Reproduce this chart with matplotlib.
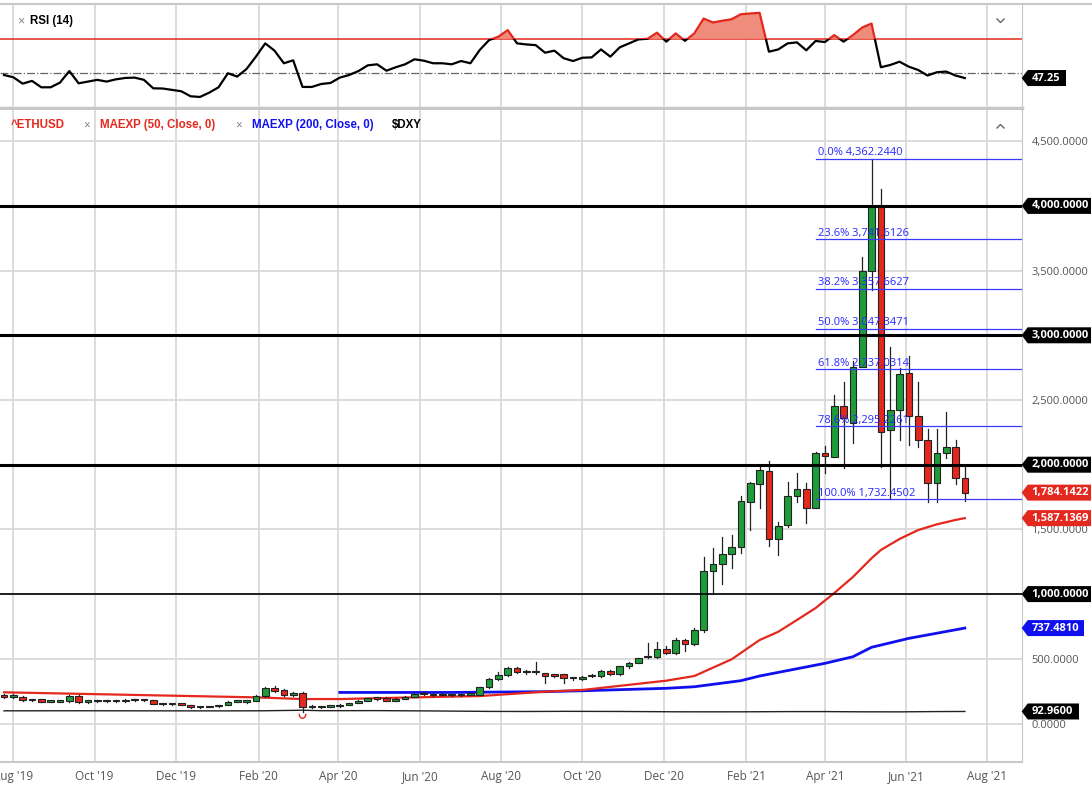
import numpy as np
import pandas as pd
import matplotlib
matplotlib.use("Agg")
from matplotlib import pyplot as plt
import matplotlib.dates as mdates
from matplotlib.patches import Rectangle, Polygon, Arc
from matplotlib.lines import Line2D
from matplotlib.transforms import IdentityTransform

plt.rcParams['font.family'] = ['Open Sans', 'DejaVu Sans']

# weekly ETH candles
dates = pd.date_range("2019-07-25", periods=104, freq="7D")

opens = [210, 207, 202, 182, 189, 168, 168, 176, 212, 168,
         171, 176, 175, 173, 181, 182, 178, 152, 150, 147,
         140, 126, 127, 132, 142, 168, 168, 176, 212, 277,
         259, 220, 238, 125, 128, 130, 133, 146, 159, 177,
         198, 198, 177, 193, 208, 229, 230, 220, 224, 218,
         222, 224, 280, 342, 375, 432, 396, 396, 388, 380,
         380, 349, 344, 367, 367, 406, 383, 444, 470, 512,
         512, 574, 548, 646, 615, 724, 1180, 1230, 1310, 1366,
         1714, 1851, 1954, 1426, 1534, 1758, 1812, 1663, 2088, 2062,
         2454, 2320, 2757, 3497, 3994, 2267, 2423, 2706, 2376, 2191,
         1861, 2088, 2134, 1895]
highs = [225, 228, 212, 186, 192, 172, 178, 222, 218, 178,
         182, 181, 181, 186, 187, 186, 182, 154, 151, 149,
         145, 130, 131, 145, 172, 176, 180, 220, 285, 288,
         265, 240, 240, 140, 133, 142, 149, 162, 180, 200,
         206, 203, 196, 212, 232, 245, 232, 233, 228, 230,
         228, 285, 348, 395, 440, 437, 410, 478, 392, 385,
         385, 355, 368, 385, 410, 410, 448, 478, 510, 620,
         633, 600, 660, 650, 740, 1284, 1354, 1444, 1457, 1758,
         1869, 1990, 2031, 1560, 1869, 1938, 1861, 2101, 2144, 2539,
         2641, 2800, 3603, 4362.244, 4128, 2912, 2750, 2840, 2641, 2274,
         2274, 2410, 2191, 1985]
lows = [200, 198, 175, 176, 165, 163, 166, 170, 160, 162,
        168, 170, 164, 170, 176, 175, 148, 142, 144, 141,
        120, 123, 124, 130, 140, 165, 160, 174, 208, 245,
        215, 210, 89, 118, 123, 125, 130, 142, 155, 172,
        185, 172, 174, 190, 205, 222, 215, 217, 214, 215,
        218, 220, 276, 336, 368, 390, 385, 380, 310, 362,
        315, 340, 340, 362, 362, 378, 376, 428, 465, 505,
        505, 540, 540, 560, 610, 710, 1000, 1080, 1200, 1320,
        1495, 1663, 1374, 1300, 1516, 1714, 1552, 1663, 1934, 2062,
        1972, 2165, 2760, 3350, 1985, 1732, 2191, 2150, 2139, 1714,
        1714, 2049, 1851, 1722]
closes = [207, 210, 182, 180, 168, 169, 175, 212, 168, 171,
          176, 175, 173, 181, 182, 180, 152, 150, 147, 145,
          126, 127, 128, 142, 168, 170, 176, 212, 277, 253,
          220, 236, 125, 128, 128, 133, 146, 159, 177, 198,
          193, 177, 193, 208, 229, 230, 218, 224, 218, 224,
          224, 280, 342, 375, 432, 396, 397, 396, 370, 367,
          349, 350, 362, 368, 406, 383, 444, 470, 504, 512,
          574, 548, 646, 615, 724, 1180, 1230, 1310, 1366, 1720,
          1856, 1959, 1426, 1526, 1758, 1812, 1663, 2088, 2070, 2454,
          2359, 2757, 3497, 3994, 2255, 2423, 2698, 2376, 2191, 1861,
          2088, 2134, 1895, 1784.1422]

rsi = [49.0, 47.7, 44.0, 45.6, 41.9, 41.9, 44.6, 51.3, 44.2, 45.2,
       46.2, 45.2, 46.5, 47.3, 47.5, 46.2, 41.3, 41.2, 40.4, 39.6,
       36.7, 36.3, 38.8, 41.9, 50.0, 48.1, 52.5, 59.6, 67.3, 63.1,
       55.8, 57.5, 42.1, 42.1, 43.8, 44.4, 47.5, 49.0, 51.3, 54.6,
       55.2, 51.5, 53.5, 55.2, 58.1, 57.3, 55.8, 55.8, 55.2, 57.1,
       55.8, 63.5, 69.2, 71.2, 75.0, 67.3, 66.7, 66.3, 61.9, 63.1,
       58.7, 57.1, 59.0, 59.2, 63.8, 59.6, 65.0, 67.3, 69.6, 70.0,
       73.5, 68.3, 73.1, 68.8, 73.1, 81.7, 79.4, 80.4, 81.3, 84.2,
       84.6, 85.0, 62.5, 63.8, 67.3, 67.9, 63.3, 68.7, 68.1, 72.1,
       68.3, 72.1, 76.5, 78.8, 53.5, 54.8, 56.7, 53.8, 51.9, 48.7,
       50.6, 51.0, 48.7, 47.25]

# moving averages (week index, value)
ema50_idx = [0, 27, 32, 36, 44, 51, 58, 62, 71, 74, 78, 81, 83, 85, 87, 89, 91, 93, 94, 96, 98, 100, 102, 103]
ema50_val = [241, 202, 189, 189, 202, 212, 246, 259, 331, 367, 496, 645, 709, 800, 892, 1008, 1132, 1277, 1341, 1426, 1495, 1539, 1573, 1587.1369]
ema200_idx = [36, 48, 58, 62, 71, 74, 79, 81, 88, 91, 93, 97, 103]
ema200_val = [240, 240, 246, 253, 272, 284, 331, 367, 465, 516, 589, 658, 737.481]
dxy_idx = [0, 8, 16, 24, 28, 32, 34, 40, 46, 52, 56, 60, 66, 72, 76, 80, 84, 88, 92, 96, 100, 103]
dxy_val = [98.0, 98.5, 97.8, 97.5, 98.5, 102.5, 99.0, 99.5, 97.0, 93.5, 92.8, 94.0, 93.0, 90.5, 90.2, 90.5, 92.0, 92.0, 90.3, 90.0, 92.2, 92.96]

fib_pct = ['0.0%', '23.6%', '38.2%', '50.0%', '61.8%', '78.6%', '100.0%']
fib_val = [4362.2440, 3741.6126, 3357.6627, 3047.3471, 2737.0314, 2295.2261, 1732.4502]
levels = [1000, 2000, 3000, 4000]

GREEN = '#1f9c3a'
RED = '#e5281d'
BLUE = '#1010ee'
GRID = '#d9d9d9'
W, H = 1092, 801

fig = plt.figure(figsize=(W / 100, H / 100), dpi=100)
ax_r = fig.add_axes([0, 1 - 107.5 / H, 1021.7 / W, (107.5 - 4) / H])
ax = fig.add_axes([0, 1 - 762 / H, 1021.7 / W, (762 - 110) / H])

x = mdates.date2num(dates)
xmin = mdates.date2num(pd.Timestamp("2019-07-22"))
xmax = mdates.date2num(pd.Timestamp("2021-08-26 16:00"))
ticks = mdates.date2num(pd.date_range("2019-08-01", "2021-08-01", freq="2MS"))

for a in (ax, ax_r):
    a.set_xlim(xmin, xmax)
    a.set_xticks(ticks)
    a.grid(axis='x', color=GRID, lw=1.3)
    a.set_axisbelow(True)
    for s in ('left', 'top'):
        a.spines[s].set_visible(False)
    a.spines['right'].set_color('#c8c8c8')
    a.tick_params(length=0)

# ---- RSI panel
ax_r.set_ylim(30.2, 90.1)
ax_r.set_yticks([])
ax_r.set_xticklabels([])
ax_r.spines['bottom'].set_color('#c8c8c8')
ax_r.spines['bottom'].set_linewidth(2.5)
rsi_a = np.array(rsi)
ax_r.axhline(70, color=RED, lw=1.1, zorder=2)
ax_r.axhline(50, color='#666666', lw=0.9, ls='-.', zorder=2)
ax_r.fill_between(x, 70, rsi_a, where=rsi_a > 70, interpolate=True, color='#f08c7c', lw=0, zorder=2)
below = Rectangle((xmin, 0), xmax - xmin, 70, transform=ax_r.transData)
above = Rectangle((xmin, 70), xmax - xmin, 60, transform=ax_r.transData)
l1, = ax_r.plot(x, rsi_a, color='black', lw=1.6, zorder=3)
l1.set_clip_path(below)
l2, = ax_r.plot(x, rsi_a, color=RED, lw=1.6, zorder=3)
l2.set_clip_path(above)

# ---- price panel
ax.set_ylim(-297.5, 4741)
ax.set_yticks(np.arange(0, 4501, 500))
ax.set_yticklabels(['{:,.4f}'.format(v) for v in np.arange(0, 4501, 500)])
ax.yaxis.tick_right()
ax.tick_params(axis='y', pad=7, labelsize=8, labelcolor='#555555')
ax.tick_params(axis='x', pad=5.5, labelsize=8.5, labelcolor='#555555')
ax.xaxis.set_major_formatter(mdates.DateFormatter("%b '%y"))
ax.grid(axis='y', color=GRID, lw=1.3)
ax.spines['bottom'].set_color('#c8c8c8')
ax.spines['bottom'].set_linewidth(1.5)

ax.plot(x[dxy_idx], dxy_val, color='#222222', lw=1.0, zorder=2)
ax.plot(x[ema200_idx], ema200_val, color=BLUE, lw=2.0, zorder=2)
ax.plot(x[ema50_idx], ema50_val, color=RED, lw=1.6, zorder=2)

bw = 5.0
for xi, o, h, l, c in zip(x, opens, highs, lows, closes):
    col = GREEN if c >= o else RED
    ax.plot([xi, xi], [l, h], color='#222222', lw=0.9, zorder=3)
    ax.add_patch(Rectangle((xi - bw / 2, min(o, c)), bw, max(abs(c - o), 10),
                           facecolor=col, edgecolor='#222222', lw=0.8, zorder=4))

# event marker under the March 2020 candle
ax.add_patch(Arc((x[32], 75), 5, 70, theta1=180, theta2=360, color=RED, lw=1.0, zorder=4))

for lv in levels:
    ax.axhline(lv, color='black', lw=1.2 if lv == 1000 else 2.2, zorder=5)

for p, v in zip(fib_pct, fib_val):
    ax.plot([x[87], xmax], [v, v], color='#3a3aff', lw=0.9, zorder=5)
    ax.annotate('{} {:,.4f}'.format(p, v), (x[87], v), xytext=(2, 0.5), textcoords='offset points',
                color='#2626ff', fontsize=8, va='bottom', ha='left', zorder=6)


def tag(a, val, text, color, right):
    yd = a.transData.transform((xmin, val))[1]
    x0 = a.transAxes.transform((1, 0))[0]
    hh = 8
    fig.add_artist(Polygon([(x0, yd), (x0 + 6, yd + hh), (right, yd + hh), (right, yd - hh),
                            (x0 + 6, yd - hh)], closed=True, transform=IdentityTransform(),
                           facecolor=color, edgecolor='none', zorder=5))
    fig.text(x0 + 10, yd, text, transform=IdentityTransform(), color='white', fontsize=8,
             fontweight='bold', va='center', ha='left', zorder=6)


for lv in levels:
    tag(ax, lv, '{:,.4f}'.format(lv), 'black', 1091)
tag(ax, closes[-1], '{:,.4f}'.format(closes[-1]), RED, 1091)
tag(ax, ema50_val[-1], '{:,.4f}'.format(ema50_val[-1]), RED, 1091)
tag(ax, ema200_val[-1], '{:,.4f}'.format(ema200_val[-1]), BLUE, 1084)
tag(ax, dxy_val[-1], '{:,.4f}'.format(dxy_val[-1]), 'black', 1079)
tag(ax_r, rsi[-1], '{:.2f}'.format(rsi[-1]), 'black', 1066)

# header texts
fig.text(17 / W, 1 - 21 / H, '×', color='#888888', fontsize=9, va='center', family=['Liberation Sans', 'DejaVu Sans'])
fig.text(30 / W, 1 - 21 / H, 'RSI (14)', color='black', fontsize=8.3, fontweight='bold', va='center',
         family=['Liberation Sans', 'DejaVu Sans'])
hdr = [(11, '^ETHUSD', RED), (83, '×', '#888888'), (100.5, 'MAEXP (50, Close, 0)', RED),
       (235, '×', '#888888'), (252, 'MAEXP (200, Close, 0)', BLUE), (392, '$DXY', 'black')]
for px, s, col in hdr:
    fig.text(px / W, 1 - 125 / H, s, color=col, fontsize=8.3, va='center',
             fontweight='normal' if s == '×' else 'bold', family=['Liberation Sans', 'DejaVu Sans'])

# small chevrons and panel top border
fig.add_artist(Line2D([997, 1000.5, 1004], [H - 19, H - 22.5, H - 19], transform=IdentityTransform(),
                      color='#666666', lw=1))
fig.add_artist(Line2D([997, 1000.5, 1004], [H - 128, H - 124.5, H - 128], transform=IdentityTransform(),
                      color='#666666', lw=1))
fig.add_artist(Line2D([0, 1], [1 - 4 / H, 1 - 4 / H], transform=fig.transFigure, color='#c8c8c8', lw=1.5))

fig.savefig('out.png', dpi=100, facecolor='white')
